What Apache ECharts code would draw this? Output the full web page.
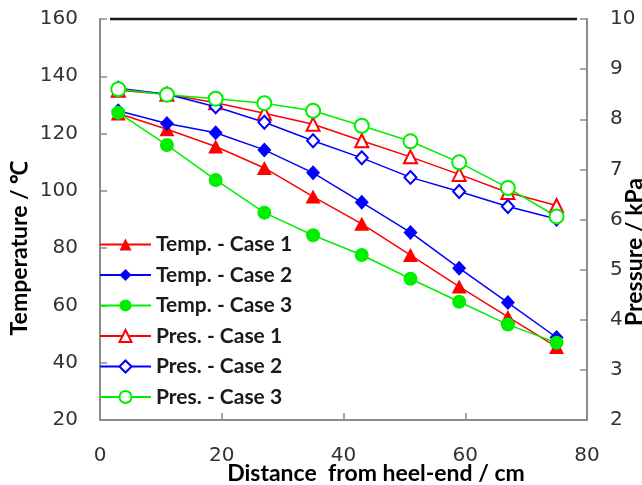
<!DOCTYPE html>
<html>
<head>
<meta charset="utf-8">
<script src="https://cdn.jsdelivr.net/npm/echarts@6/dist/echarts.min.js"></script>
<style>
html,body{margin:0;padding:0;background:#fff;}
#chart{width:642px;height:485px;}
</style>
</head>
<body>
<div id="chart"></div>
<script>
// distance from heel-end (cm)
var distance = [3, 11, 19, 27, 35, 43, 51, 59, 67, 75];
// temperatures (°C)
var tempCase1 = [127, 121.5, 115.5, 108, 98, 88.5, 77.6, 66.6, 56, 45.5];
var tempCase2 = [128, 123.5, 120.3, 114.3, 106.3, 96, 85.5, 73, 61, 48.8];
var tempCase3 = [127.3, 116, 103.8, 92.4, 84.5, 77.6, 69.3, 61.3, 53.3, 47];
// pressures (kPa)
var presCase1 = [8.58, 8.5, 8.33, 8.12, 7.9, 7.57, 7.25, 6.9, 6.54, 6.28];
var presCase2 = [8.62, 8.5, 8.25, 7.94, 7.57, 7.23, 6.84, 6.56, 6.26, 6.01];
var presCase3 = [8.6, 8.49, 8.41, 8.32, 8.17, 7.87, 7.56, 7.14, 6.63, 6.06];

var seriesNames = ['Temp. - Case 1', 'Temp. - Case 2', 'Temp. - Case 3',
                   'Pres. - Case 1', 'Pres. - Case 2', 'Pres. - Case 3'];
var xTitle = 'Distance  from heel-end / cm';
var yLeftTitle = 'Temperature / ℃';
var yRightTitle = 'Pressure / kPa';

function pairs(xs, ys) {
  return xs.map(function (x, i) { return [x, ys[i]]; });
}

var RED = '#ff0000', BLUE = '#0000ff', GREEN = '#00ee00';
var axisGray = '#8c8c8c';
var labelStyle = { fontFamily: 'DejaVu Sans', fontSize: 20, color: '#333333' };

function mkSeries(name, data, color, symbol, size, yIdx) {
  return {
    name: name, type: 'line', yAxisIndex: yIdx,
    data: data, symbol: symbol, symbolSize: size,
    showAllSymbol: true,
    color: color,
    lineStyle: { color: color, width: 1.5 },
    itemStyle: { color: color, borderColor: color, borderWidth: symbol.indexOf('empty') === 0 ? 1.5 : 0 },
    emphasis: { disabled: true },
    animation: false
  };
}

var chart = echarts.init(document.getElementById('chart'), null, { renderer: 'canvas' });
chart.setOption({
  backgroundColor: '#ffffff',
  animation: false,
  grid: { left: 100, right: 55, top: 19, bottom: 65 },
  xAxis: {
    type: 'value', min: 0, max: 80, interval: 20,
    axisLine: { show: true, lineStyle: { color: axisGray, width: 2 } },
    axisTick: { show: true, inside: true, length: 7, lineStyle: { color: axisGray, width: 1.5 } },
    axisLabel: Object.assign({ margin: 26 }, labelStyle),
    splitLine: { show: false }
  },
  yAxis: [{
    type: 'value', position: 'left', min: 20, max: 160, interval: 20,
    axisLine: { show: true, lineStyle: { color: axisGray, width: 2 } },
    axisTick: { show: true, inside: true, length: 7, lineStyle: { color: axisGray, width: 1.5 } },
    axisLabel: Object.assign({ margin: 22 }, labelStyle),
    splitLine: { show: false }
  }, {
    type: 'value', position: 'right', min: 2, max: 10, interval: 1,
    axisLine: { show: true, lineStyle: { color: axisGray, width: 2 } },
    axisTick: { show: true, inside: true, length: 7, lineStyle: { color: axisGray, width: 1.5 } },
    axisLabel: Object.assign({ margin: 23 }, labelStyle),
    splitLine: { show: false }
  }],
  legend: {
    orient: 'vertical', left: 99, top: 234, padding: 0,
    itemWidth: 51, itemHeight: 15, itemGap: 9.5,
    textStyle: { fontFamily: 'Lato', fontWeight: 'bold', fontSize: 21, color: '#1a1a1a', lineHeight: 21 },
    data: seriesNames
  },
  graphic: [
    { type: 'line', shape: { x1: 110, y1: 19, x2: 577, y2: 19 },
      style: { stroke: '#1a1a1a', lineWidth: 2.5 }, silent: true },
    { type: 'text', x: 376, y: 474,
      style: { text: xTitle, fontFamily: 'Lato', fontWeight: 'bold', fontSize: 23, fill: '#000',
               textAlign: 'center', textVerticalAlign: 'middle' } },
    { type: 'text', x: 20, y: 248, rotation: Math.PI / 2,
      style: { text: yLeftTitle, fontFamily: 'Lato', fontWeight: 'bold', fontSize: 23, fill: '#000',
               textAlign: 'center', textVerticalAlign: 'middle' } },
    { type: 'text', x: 635, y: 252, rotation: Math.PI / 2,
      style: { text: yRightTitle, fontFamily: 'Lato', fontWeight: 'bold', fontSize: 23, fill: '#000',
               textAlign: 'center', textVerticalAlign: 'middle' } }
  ],
  series: [
    mkSeries(seriesNames[0], pairs(distance, tempCase1), RED, 'triangle', [15, 14], 0),
    mkSeries(seriesNames[1], pairs(distance, tempCase2), BLUE, 'diamond', [14, 15], 0),
    mkSeries(seriesNames[2], pairs(distance, tempCase3), GREEN, 'circle', 14, 0),
    mkSeries(seriesNames[3], pairs(distance, presCase1), RED, 'emptyTriangle', [13, 13], 1),
    mkSeries(seriesNames[4], pairs(distance, presCase2), BLUE, 'emptyDiamond', [12, 13], 1),
    mkSeries(seriesNames[5], pairs(distance, presCase3), GREEN, 'emptyCircle', 14, 1)
  ]
});
</script>
</body>
</html>
